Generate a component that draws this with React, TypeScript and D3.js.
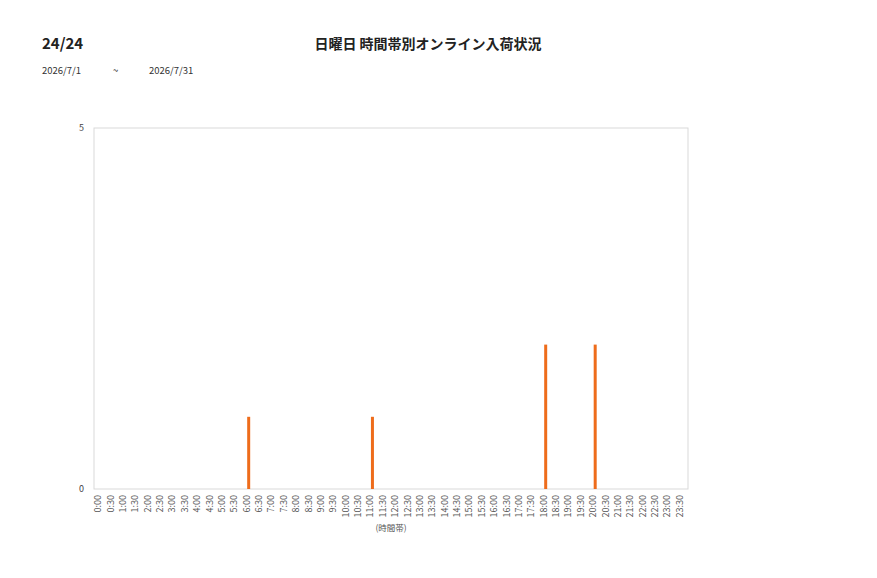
import React from "react";
import * as d3 from "d3";

const categories: string[] = [];
for (let h = 0; h < 24; h++) {
  categories.push(`${h}:00`);
  categories.push(`${h}:30`);
}
const barLabels = ["6:00", "11:00", "18:00", "20:00"];
const barValues = [1, 1, 2, 2];
const yTicks = [0, 5];
const titleText = "日曜日 時間帯別オンライン入荷状況";
const pageLabel = "24/24";
const dateFrom = "2026/7/1";
const dateTo = "2026/7/31";
const xTitle = "(時間帯)";

const values = categories.map((c) => {
  const i = barLabels.indexOf(c);
  return i >= 0 ? barValues[i] : 0;
});

const W = 877;
const H = 578;
const plot = { left: 94, right: 688, top: 128, bottom: 489 };
const font = "'Noto Sans CJK JP', 'Noto Sans', sans-serif";

export default function App() {
  const x = d3.scaleBand<string>().domain(categories).range([plot.left, plot.right]);
  const y = d3.scaleLinear().domain([0, 5]).range([plot.bottom, plot.top]);
  const barW = 3;
  return (
    <svg
      width={W}
      height={H}
      style={{ position: "absolute", left: 0, top: 0, background: "#fff" }}
      fontFamily={font}
    >
      <rect x={0} y={0} width={W} height={H} fill="#fff" />
      <text x={42} y={49} fontSize={15} fontWeight="bold" fill="#222">{pageLabel}</text>
      <text x={428} y={49} fontSize={14} fontWeight="bold" textAnchor="middle" fill="#222">{titleText}</text>
      <text x={42} y={74} fontSize={9.5} fill="#333">{dateFrom}</text>
      <text x={113} y={74} fontSize={9.5} fill="#333">~</text>
      <text x={149} y={74} fontSize={9.5} fill="#333">{dateTo}</text>

      <rect
        x={plot.left}
        y={plot.top}
        width={plot.right - plot.left}
        height={plot.bottom - plot.top}
        fill="none"
        stroke="#d9d9d9"
        strokeWidth={1}
      />
      {yTicks.map((t) => (
        <text key={t} x={84} y={y(t) + 3} fontSize={9} textAnchor="end" fill="#444">
          {t}
        </text>
      ))}
      {categories.map((c, i) =>
        values[i] > 0 ? (
          <rect
            key={c}
            x={(x(c) as number) + x.bandwidth() / 2 - barW / 2}
            y={y(values[i])}
            width={barW}
            height={y(0) - y(values[i])}
            fill="#EE6C1B"
          />
        ) : null
      )}
      {categories.map((c) => {
        const cx = (x(c) as number) + x.bandwidth() / 2;
        return (
          <text
            key={c}
            transform={`translate(${cx + 1},495) rotate(-90)`}
            fontSize={9}
            textAnchor="end"
            fill="#555"
          >
            {c}
          </text>
        );
      })}
      <text x={391} y={531} fontSize={8.5} textAnchor="middle" fill="#555">{xTitle}</text>
    </svg>
  );
}
